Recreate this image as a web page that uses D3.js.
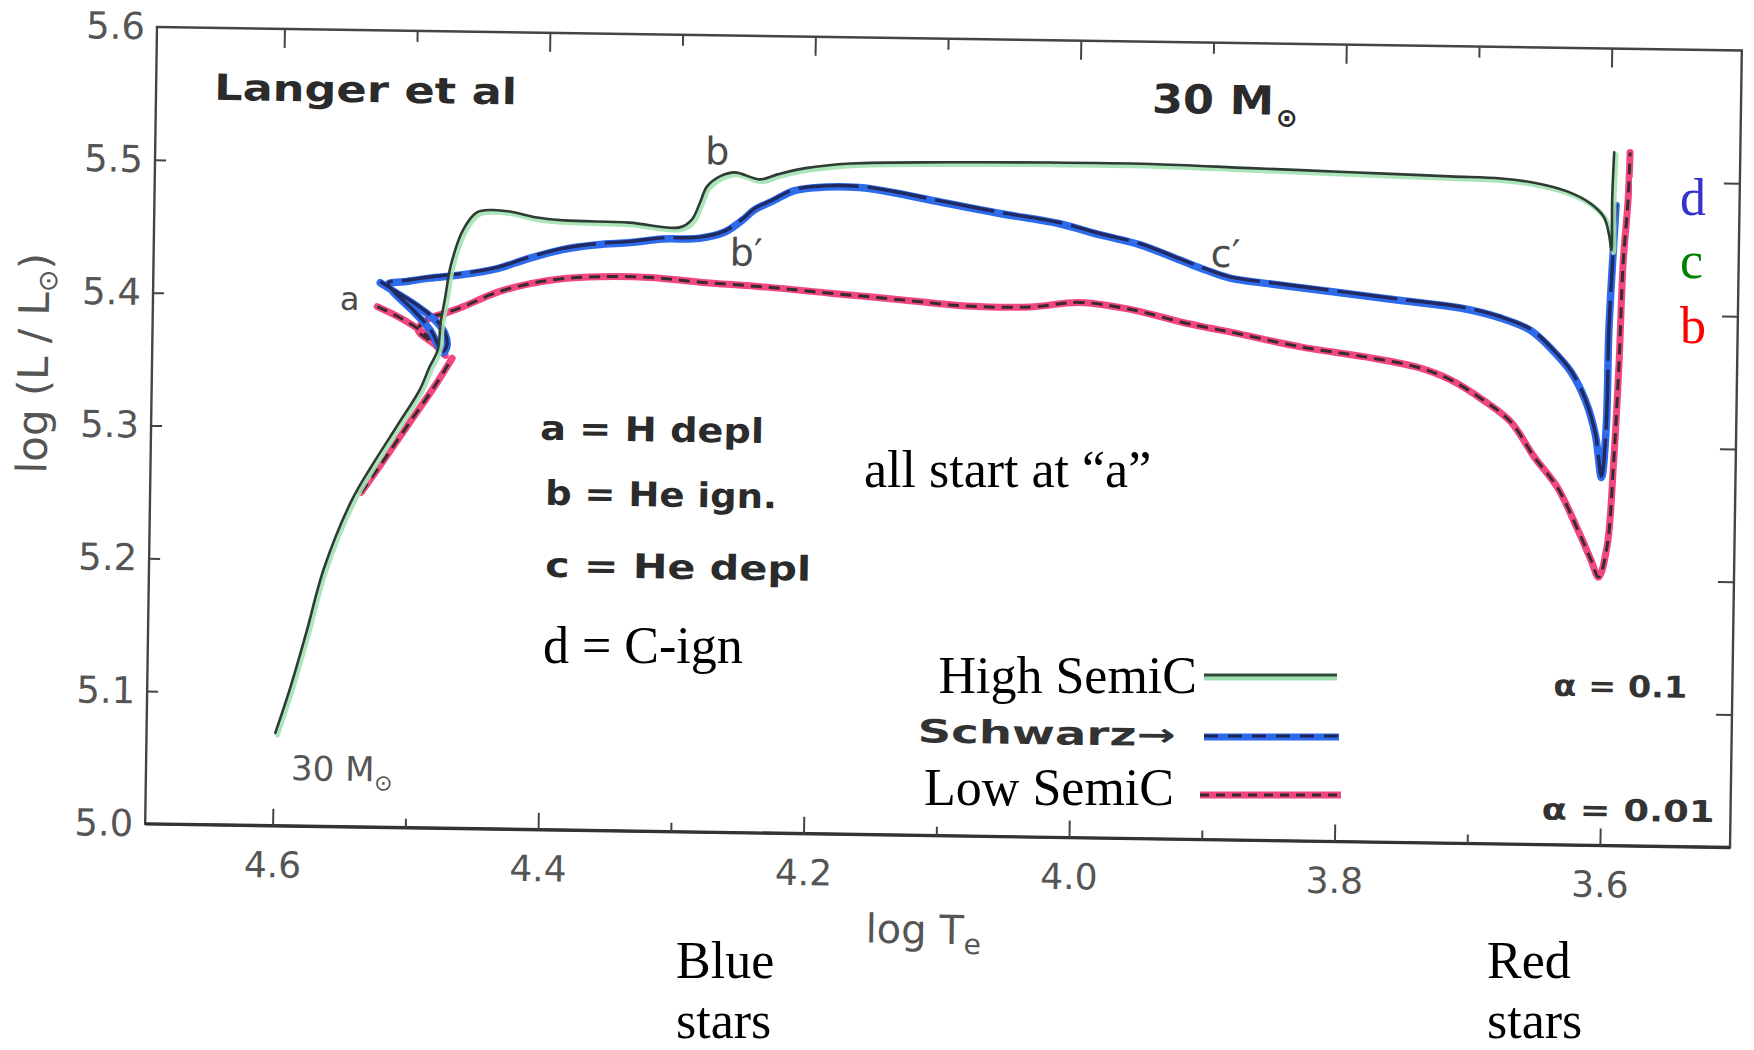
<!DOCTYPE html>
<html>
<head>
<meta charset="utf-8">
<script src="https://cdn.jsdelivr.net/npm/d3@7"></script>
<style>
  body { margin: 0; background: #fff; }
  svg { display: block; }
</style>
</head>
<body>
<svg id="chart" width="1754" height="1050"></svg>
<script>
// ---- Evolutionary tracks of a 30 Msun star, [log Te, log(L/Lsun)] ----
const highSemiC = [
  [4.599,5.070],[4.588,5.105],[4.577,5.145],[4.564,5.195],[4.544,5.246],[4.530,5.271],
  [4.511,5.302],[4.494,5.330],[4.487,5.347],[4.481,5.360],[4.479,5.381],[4.476,5.399],
  [4.472,5.424],[4.463,5.451],[4.453,5.464],[4.442,5.466],[4.428,5.465],[4.409,5.461],
  [4.387,5.459],[4.338,5.458],[4.300,5.455],[4.291,5.461],[4.285,5.474],[4.280,5.486],
  [4.270,5.494],[4.259,5.497],[4.240,5.492],[4.227,5.496],[4.206,5.501],[4.172,5.505],
  [4.097,5.507],[4.022,5.508],[3.946,5.508],[3.871,5.506],[3.795,5.504],[3.720,5.502],
  [3.682,5.501],[3.656,5.498],[3.632,5.492],[3.614,5.483],[3.604,5.473],[3.600,5.460],
  [3.598,5.448],[3.598,5.486],[3.597,5.522]
];
const schwarz = [
  [4.525,5.410],[4.512,5.402],[4.496,5.392],[4.483,5.382],[4.476,5.373],[4.474,5.363],
  [4.477,5.358],[4.487,5.375],[4.501,5.390],[4.515,5.403],[4.519,5.409],[4.507,5.411],
  [4.488,5.414],[4.463,5.417],[4.437,5.422],[4.413,5.430],[4.388,5.437],[4.362,5.441],
  [4.337,5.443],[4.313,5.446],[4.285,5.447],[4.266,5.452],[4.253,5.461],[4.244,5.469],
  [4.230,5.476],[4.214,5.484],[4.191,5.487],[4.165,5.487],[4.142,5.484],[4.104,5.477],
  [4.059,5.469],[4.014,5.462],[3.983,5.454],[3.953,5.447],[3.923,5.436],[3.904,5.429],
  [3.885,5.423],[3.854,5.419],[3.809,5.414],[3.756,5.408],[3.711,5.403],[3.681,5.396],
  [3.658,5.387],[3.641,5.372],[3.627,5.356],[3.616,5.335],[3.608,5.309],[3.603,5.277],
  [3.600,5.313],[3.599,5.388],[3.597,5.439],[3.595,5.482]
];
const lowSemiC = [
  [4.527,5.392],[4.510,5.384],[4.492,5.373],[4.479,5.362],[4.475,5.356],[4.483,5.364],
  [4.496,5.375],[4.487,5.384],[4.475,5.388],[4.462,5.393],[4.437,5.404],[4.412,5.411],
  [4.388,5.415],[4.360,5.417],[4.322,5.417],[4.284,5.414],[4.234,5.411],[4.184,5.407],
  [4.133,5.403],[4.083,5.399],[4.035,5.399],[3.998,5.403],[3.958,5.398],[3.920,5.389],
  [3.899,5.385],[3.882,5.382],[3.831,5.372],[3.781,5.365],[3.743,5.358],[3.718,5.349],
  [3.693,5.334],[3.672,5.318],[3.654,5.292],[3.636,5.269],[3.620,5.237],[3.610,5.215],
  [3.604,5.202],[3.598,5.225],[3.594,5.288],[3.591,5.363],[3.589,5.439],[3.586,5.486],
  [3.585,5.522]
];
// main-sequence stretch of the low-semiconvection track
const lowSemiCMS = [[4.537,5.252],[4.518,5.280],[4.500,5.307],[4.482,5.334],[4.470,5.354]];

// ---- axis ticks ----
const yTicks = [5.0, 5.1, 5.2, 5.3, 5.4, 5.5, 5.6];
const yInnerTicks = [5.1, 5.2, 5.3, 5.4, 5.5];
const xMajorTicks = [4.6, 4.4, 4.2, 4.0, 3.8, 3.6];
const xMinorTicks = [4.5, 4.3, 4.1, 3.9, 3.7];

// ---- notes ----
const phaseNotes = ["a = H depl", "b = He ign.", "c = He depl"];
const seriesNames = ["High SemiC", "Schwarz\u2192", "Low SemiC"];

// ---- layout ----
const W = 1585, H = 797;
const svg = d3.select("#chart");
svg.append("rect").attr("width", 1754).attr("height", 1050).attr("fill", "#fff");

const x = d3.scaleLinear().domain([4.696, 3.502]).range([0, W]);
const y = d3.scaleLinear().domain([5.0, 5.6]).range([H, 0]);

// the plotted panel sits slightly tilted on the page
const g = svg.append("g").attr("transform", "translate(157,27) rotate(0.85)");

const axisColor = "#444";
const labelColor = "#555";
const scanFont = "'DejaVu Sans', sans-serif";
const handFont = "'DejaVu Sans', sans-serif";

// frame
g.append("rect").attr("x", 0).attr("y", 0).attr("width", W).attr("height", H)
  .attr("fill", "none").attr("stroke", axisColor).attr("stroke-width", 2.4);
g.append("line").attr("x1", 0).attr("x2", W).attr("y1", H).attr("y2", H)
  .attr("stroke", "#333").attr("stroke-width", 3.4);

function styleAxis(sel) {
  sel.select(".domain").remove();
  sel.selectAll("line").attr("stroke", axisColor).attr("stroke-width", 2);
  sel.selectAll("text").attr("fill", labelColor).attr("font-family", scanFont);
}

// bottom axis with labels
g.append("g").attr("transform", `translate(0,${H})`)
  .call(d3.axisBottom(x).tickValues(xMajorTicks).tickSize(-17).tickPadding(26)
    .tickFormat(d3.format(".1f")))
  .call(styleAxis)
  .call(s => s.selectAll("text").attr("font-size", 36));
g.append("g").attr("transform", `translate(0,${H})`)
  .call(d3.axisBottom(x).tickValues(xMinorTicks).tickSize(-9).tickFormat(""))
  .call(styleAxis);

// top axis
g.append("g")
  .call(d3.axisTop(x).tickValues(xMajorTicks).tickSize(-19).tickFormat(""))
  .call(styleAxis);
g.append("g")
  .call(d3.axisTop(x).tickValues(xMinorTicks).tickSize(-11).tickFormat(""))
  .call(styleAxis);

// left axis with labels
g.append("g")
  .call(d3.axisLeft(y).tickValues(yTicks).tickSize(0).tickPadding(12)
    .tickFormat(d3.format(".1f")))
  .call(styleAxis)
  .call(s => s.selectAll("text").attr("font-size", 37));
g.append("g")
  .call(d3.axisLeft(y).tickValues(yInnerTicks).tickSize(-11).tickFormat(""))
  .call(styleAxis);

// right axis
g.append("g").attr("transform", `translate(${W},0)`)
  .call(d3.axisRight(y).tickValues(yInnerTicks).tickSize(-16).tickFormat(""))
  .call(styleAxis);

// axis titles
const yt = g.append("text")
  .attr("transform", "translate(-104,338) rotate(-90)")
  .attr("text-anchor", "middle").attr("font-family", scanFont)
  .attr("font-size", 42).attr("fill", labelColor);
yt.append("tspan").text("log (L / L");
yt.append("tspan").attr("font-size", 27).attr("dy", 8).text("\u2299");
yt.append("tspan").attr("dy", -8).text(")");

const xt = g.append("text").attr("x", 722).attr("y", 905)
  .attr("font-family", scanFont).attr("font-size", 40).attr("fill", labelColor);
xt.append("tspan").text("log T");
xt.append("tspan").attr("font-size", 28).attr("dy", 10).text("e");

// ---- tracks ----
const line = d3.line()
  .x(d => x(d[0])).y(d => y(d[1]))
  .curve(d3.curveCatmullRom.alpha(0.5));

const tracks = g.append("g").attr("fill", "none")
  .attr("stroke-linejoin", "round").attr("stroke-linecap", "round");

// low semiconvection: pink band with dark dashes
[lowSemiCMS, lowSemiC].forEach(seg => {
  tracks.append("path").attr("d", line(seg))
    .attr("stroke", "#f2467f").attr("stroke-width", 7);
  tracks.append("path").attr("d", line(seg))
    .attr("stroke", "#3a2a32").attr("stroke-width", 3)
    .attr("stroke-dasharray", "11 7").attr("stroke-linecap", "butt");
});

// Schwarzschild: blue band with dark core
tracks.append("path").attr("d", line(schwarz))
  .attr("stroke", "#2d6bec").attr("stroke-width", 7.5);
tracks.append("path").attr("d", line(schwarz))
  .attr("transform", "translate(0,-1.2)")
  .attr("stroke", "#1f2452").attr("stroke-width", 3.4)
  .attr("stroke-dasharray", "60 9").attr("stroke-linecap", "butt")
  .attr("opacity", 0.9);

// high semiconvection: thin dark line with light green edge
tracks.append("path").attr("d", line(highSemiC))
  .attr("transform", "translate(2,2.2)")
  .attr("stroke", "#a3e2b2").attr("stroke-width", 5).attr("opacity", 0.9);
tracks.append("path").attr("d", line(highSemiC))
  .attr("stroke", "#2e3c34").attr("stroke-width", 2.6);

// ---- lettering inside the panel ----
function handText(txt, px, py, size, len, color) {
  return g.append("text").attr("x", px).attr("y", py)
    .attr("font-family", handFont).attr("font-weight", "bold")
    .attr("font-size", size).attr("fill", color || "#2b2b2b")
    .attr("textLength", len).attr("lengthAdjust", "spacingAndGlyphs")
    .text(txt);
}
handText("Langer et al", 58, 72, 36, 303);
const top30 = g.append("text").attr("x", 996).attr("y", 71)
  .attr("font-family", handFont).attr("font-weight", "bold")
  .attr("font-size", 40).attr("fill", "#2b2b2b");
top30.append("tspan").attr("textLength", 122).attr("lengthAdjust", "spacingAndGlyphs")
  .text("30 M");
top30.append("tspan").attr("font-size", 26).attr("dy", 12).attr("dx", 2).text("\u2299");

handText(phaseNotes[0], 389, 407, 34, 224);
handText(phaseNotes[1], 395, 472, 34, 232);
handText(phaseNotes[2], 396, 544, 34, 266);
handText(seriesNames[1], 771, 704, 32, 258, "#333");
handText("\u03b1 = 0.1", 1406, 648, 30, 134, "#333");
handText("\u03b1 = 0.01", 1396, 772, 30, 173, "#333");

function pointLabel(txt, px, py, size) {
  return g.append("text").attr("x", px).attr("y", py)
    .attr("font-family", scanFont).attr("font-size", size)
    .attr("fill", "#4a4a4a").text(txt);
}
pointLabel("a", 187, 280, 32);
pointLabel("b", 550, 129, 38);
pointLabel("b\u2032", 576, 230, 38);
pointLabel("c\u2032", 1057, 224, 38);
const low30 = g.append("text").attr("x", 145).attr("y", 751)
  .attr("font-family", scanFont).attr("font-size", 34).attr("fill", labelColor);
low30.append("tspan").text("30 M");
low30.append("tspan").attr("font-size", 22).attr("dy", 9).text("\u2299");

// ---- annotations on the page ----
const serif = "'Liberation Serif', 'Times New Roman', serif";
function note(txt, px, py, color) {
  return svg.append("text").attr("x", px).attr("y", py)
    .attr("font-family", serif).attr("font-size", 52)
    .attr("fill", color || "#000").text(txt);
}
note("all start at \u201ca\u201d", 864, 487);
note("d = C-ign", 543, 663);
note(seriesNames[0], 1197, 693).attr("text-anchor", "end");
note(seriesNames[2], 1174, 805).attr("text-anchor", "end");

// legend swatches
const leg = svg.append("g").attr("fill", "none");
leg.append("line").attr("x1", 1204).attr("x2", 1337).attr("y1", 678).attr("y2", 678)
  .attr("stroke", "#9fdcae").attr("stroke-width", 5);
leg.append("line").attr("x1", 1204).attr("x2", 1337).attr("y1", 675).attr("y2", 675)
  .attr("stroke", "#2f4a3a").attr("stroke-width", 3.2);
leg.append("line").attr("x1", 1204).attr("x2", 1339).attr("y1", 737).attr("y2", 737)
  .attr("stroke", "#2d6bec").attr("stroke-width", 7);
leg.append("line").attr("x1", 1204).attr("x2", 1339).attr("y1", 736).attr("y2", 736)
  .attr("stroke", "#1f2452").attr("stroke-width", 3.2).attr("stroke-dasharray", "14 10");
leg.append("line").attr("x1", 1200).attr("x2", 1341).attr("y1", 795).attr("y2", 795)
  .attr("stroke", "#f2467f").attr("stroke-width", 7);
leg.append("line").attr("x1", 1200).attr("x2", 1341).attr("y1", 795).attr("y2", 795)
  .attr("stroke", "#3a2a32").attr("stroke-width", 3).attr("stroke-dasharray", "9 7");

// end-point letters beside the red-supergiant tip
svg.append("rect").attr("x", 1632).attr("y", 178).attr("width", 90).attr("height", 180)
  .attr("fill", "#fff");
note("d", 1680, 215, "#3333cc");
note("c", 1680, 278, "#008000");
note("b", 1680, 343, "#ff0000");

note("Blue", 676, 978);
note("stars", 676, 1038);
note("Red", 1487, 978);
note("stars", 1487, 1038);
</script>
</body>
</html>
